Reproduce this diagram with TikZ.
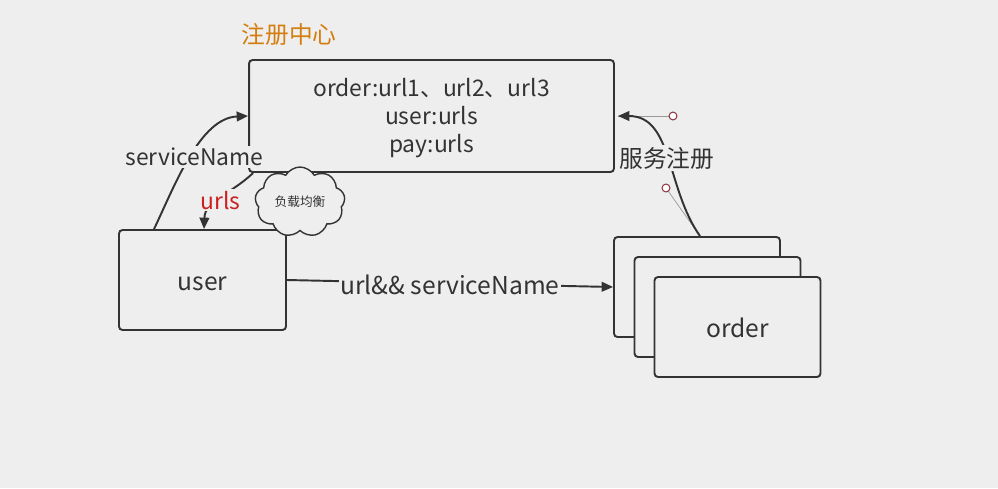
\documentclass[tikz,border=0pt]{standalone}
\usepackage{fontspec}
\setmainfont{Noto Sans CJK SC}
\usetikzlibrary{arrows.meta,shapes.symbols}
\definecolor{bgcol}{RGB}{238,238,238}
\definecolor{linecol}{RGB}{51,51,51}
\definecolor{titlecol}{RGB}{212,126,16}
\definecolor{urlcol}{RGB}{204,32,32}
\definecolor{knobcol}{RGB}{140,56,70}
\newcommand{\lowered}[2]{\raisebox{-#1}[\height][\depth]{#2}}
\begin{document}
\begin{tikzpicture}[x=0.02cm,y=-0.02cm,
  box/.style={draw=linecol,line width=1.1pt,rounded corners=2pt,fill=bgcol,text=linecol,inner sep=0pt},
  conn/.style={draw=linecol,line width=1.1pt,-{Triangle[length=6.5pt,width=5.5pt]}},
  lbl/.style={fill=bgcol,inner sep=1pt,text=linecol,font=\fontsize{13}{15}\selectfont},
  handle/.style={draw=gray!80,line width=0.4pt},
  knob/.style={circle,draw=knobcol,line width=0.6pt,fill=white,minimum size=4.5pt,inner sep=0pt}]
\fill[bgcol] (0,0) rectangle (998,488);
\useasboundingbox (0,0) rectangle (998,488);
\node[text=titlecol,font=\fontsize{13.5}{15}\selectfont] (title) at (289,35) {注册中心};
\node[box,minimum width=7.3cm,minimum height=2.24cm,font=\fontsize{13}{16}\selectfont] (reg) at (431.5,116) {\lowered{1.7pt}{\begin{tabular}{c}order:url1、url2、url3\\user:urls\\pay:urls\end{tabular}}};
\node[box,minimum width=3.34cm,minimum height=2cm,font=\fontsize{14}{16}\selectfont] (user) at (202.5,280) {\lowered{2.2pt}{user}};
\node[box,minimum width=3.32cm,minimum height=2cm] (ord1) at (697,287) {};
\node[box,minimum width=3.32cm,minimum height=2cm] (ord2) at (717.5,307) {};
\node[box,minimum width=3.32cm,minimum height=2cm,font=\fontsize{14}{16}\selectfont] (ord3) at (737.5,327) {\lowered{0.6pt}{order}};
\draw[conn] ([xshift=0.72cm]user.north west) .. controls (175,185) and (200,118) .. (reg.west) node[lbl,pos=0.5,xshift=2pt] {serviceName};
\draw[conn] ([xshift=0.1cm]reg.south west) .. controls (230,195) and (205,200) .. ([xshift=1.72cm]user.north west) node[lbl,pos=0.5,yshift=-1pt,text=urlcol] {urls};
\node[cloud,cloud puffs=9,cloud puff arc=120,aspect=1.3,draw=linecol,line width=0.8pt,fill=bgcol,minimum width=1.8cm,minimum height=1.4cm,inner sep=0pt,font=\fontsize{7.2}{8}\selectfont,text=linecol] (lb) at (300,202) {负载均衡};
\draw[conn] (user.east) -- (ord1.west) node[lbl,midway,yshift=-1pt,font=\fontsize{14}{16}\selectfont] {url\&\& serviceName};
\coordinate (srcR) at ([xshift=0.06cm]ord1.north);
\coordinate (dstR) at ([xshift=0.06cm]reg.east);
\coordinate (ctlA) at (666,188);
\coordinate (ctlB) at (673,116);
\draw[handle] (srcR) -- (ctlA);
\draw[handle] (dstR) -- (ctlB);
\draw[conn] (srcR) .. controls (ctlA) and (ctlB) .. (dstR) node[lbl,pos=0.5,font=\fontsize{13.5}{15}\selectfont] {服务注册};
\node[knob] (kA) at (ctlA) {};
\node[knob] (kB) at (ctlB) {};
\end{tikzpicture}
\end{document}
